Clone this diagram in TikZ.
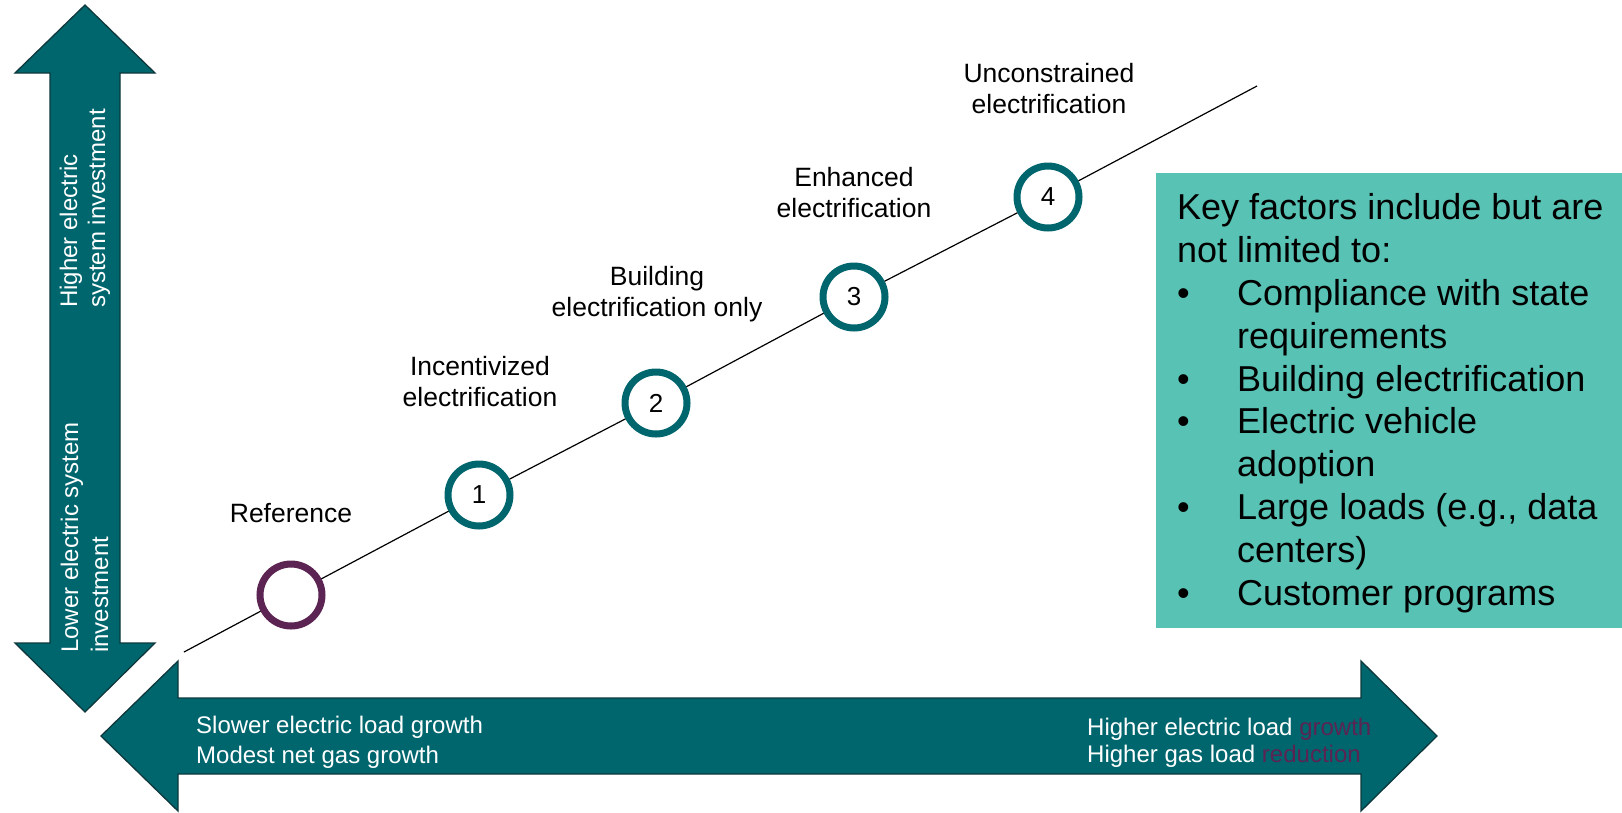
\documentclass[tikz,border=0pt]{standalone}
\usepackage{fontspec}
\setmainfont{Liberation Sans}
\usepackage{tikz}
\usepackage{xcolor}
\usetikzlibrary{positioning}
\definecolor{scenarioteal}{RGB}{0,102,110}
\definecolor{arrowedge}{RGB}{14,56,60}
\definecolor{referenceplum}{RGB}{92,36,82}
\definecolor{factorgreen}{RGB}{88,194,180}

\newcommand{\keyitem}[1]{\makebox[60pt][l]{\textbullet}#1}
\newcommand{\keycont}[1]{\hspace*{60pt}#1}

\tikzset{
  milestone/.style={circle,draw=scenarioteal,line width=7pt,fill=white,minimum size=62pt,inner sep=0pt,font=\fontsize{26}{30}\selectfont},
  caselabel/.style={align=center,anchor=base,inner sep=0pt,font=\fontsize{26.5}{31}\selectfont},
  axistext/.style={text=white,align=left,anchor=base west,inner sep=0pt},
  bigarrow/.style={fill=scenarioteal,draw=arrowedge,line width=1.3pt,line join=miter},
}

\begin{document}
\begin{tikzpicture}[x=1pt,y=-1pt]
    \useasboundingbox (0,0) rectangle (1622,812);

    % Investment axis
    \draw[bigarrow] (85,5) -- (155,73) -- (120,73) -- (120,643) -- (155,643) -- (85,712)
        -- (15,643) -- (50,643) -- (50,73) -- (15,73) -- cycle;
    \node[axistext,rotate=90,font=\fontsize{24}{28}\selectfont] (highinv) at (105,308) {Higher electric\\system investment};
    \node[axistext,rotate=90,font=\fontsize{24}{30}\selectfont] (lowinv) at (108,653) {Lower electric system\\investment};

    % Load growth axis
    \draw[bigarrow] (101,736) -- (178,661) -- (178,698) -- (1361,698) -- (1361,661) -- (1437,736)
        -- (1361,811) -- (1361,774) -- (178,774) -- (178,811) -- cycle;
    \node[axistext,font=\fontsize{24}{30}\selectfont] (slowload) at (196,763) {Slower electric load growth\\Modest net gas growth};
    \node[axistext,font=\fontsize{24}{27}\selectfont] (highload) at (1087,762)
        {Higher electric load \textcolor{referenceplum}{growth}\\Higher gas load \textcolor{referenceplum}{reduction}};

    % Scenarios along the line
    \coordinate (lstart) at (184,652);
    \coordinate (lend) at (1257,86);
    \node[milestone,draw=referenceplum] (ref) at (291,595) {};
    \node[milestone] (c1) at (479,495) {1};
    \node[milestone] (c2) at (656,403) {2};
    \node[milestone] (c3) at (854,297) {3};
    \node[milestone] (c4) at (1048,197) {4};
    \draw[line width=1.2pt] (lstart) -- (ref) -- (c1) -- (c2) -- (c3) -- (c4) -- (lend);

    \node[caselabel] (reflabel) at (291,522) {Reference};
    \node[caselabel] (c1label) at (480,406) {Incentivized\\electrification};
    \node[caselabel] (c2label) at (657,316) {Building\\electrification only};
    \node[caselabel] (c3label) at (854,217) {Enhanced\\electrification};
    \node[caselabel] (c4label) at (1049,113) {Unconstrained\\electrification};

    % Key factors box
    \fill[factorgreen] (1156,173) rectangle (1622,628);
    \node[align=left,anchor=base west,inner sep=0pt,font=\fontsize{36}{42.8}\selectfont] (factors) at (1177,605)
        {Key factors include but are\\
         not limited to:\\
         \keyitem{Compliance with state}\\
         \keycont{requirements}\\
         \keyitem{Building electrification}\\
         \keyitem{Electric vehicle}\\
         \keycont{adoption}\\
         \keyitem{Large loads (e.g., data}\\
         \keycont{centers)}\\
         \keyitem{Customer programs}};
\end{tikzpicture}
\end{document}
